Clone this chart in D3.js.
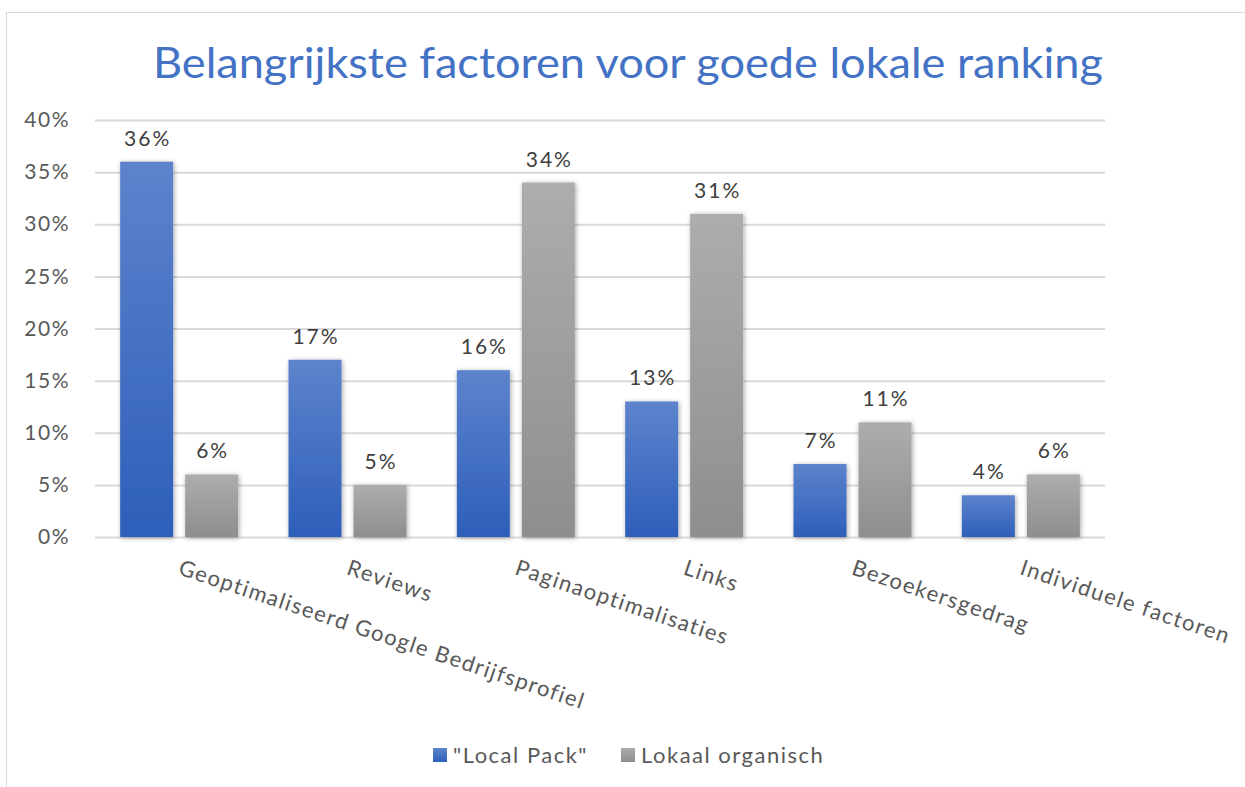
<!DOCTYPE html>
<html>
<head>
<meta charset="utf-8">
<script src="https://cdn.jsdelivr.net/npm/d3@7"></script>
<style>
  body { margin: 0; background: #fff; }
  svg { display: block; }
  text { font-family: Lato, "Noto Sans", sans-serif; }
</style>
</head>
<body>
<svg id="chart" width="1245" height="787"></svg>
<script>
// data
var categories = ["Geoptimaliseerd Google Bedrijfsprofiel", "Reviews", "Paginaoptimalisaties", "Links", "Bezoekersgedrag", "Individuele factoren"];
var seriesNames = ["\"Local Pack\"", "Lokaal organisch"];
var localPack = [36, 17, 16, 13, 7, 4];
var lokaalOrganisch = [6, 5, 34, 31, 11, 6];
var yTicks = [0, 5, 10, 15, 20, 25, 30, 35, 40];
var titleText = "Belangrijkste factoren voor goede lokale ranking";

var width = 1245, height = 787;
var margin = {top: 120, right: 140, bottom: 250, left: 95};
var plotW = 1105 - margin.left, plotH = 537 - margin.top;

var svg = d3.select("#chart");

var defs = svg.append("defs");
function grad(id, top, bottom) {
  var g = defs.append("linearGradient").attr("id", id)
    .attr("x1", 0).attr("y1", 0).attr("x2", 0).attr("y2", 1);
  g.append("stop").attr("offset", "0%").attr("stop-color", top);
  g.append("stop").attr("offset", "100%").attr("stop-color", bottom);
}
grad("gBlue", "#5d83cc", "#2d5fba");
grad("gGray", "#adadad", "#8e8e8e");
var f = defs.append("filter").attr("id", "shadow")
  .attr("x", "-30%").attr("y", "-10%").attr("width", "160%").attr("height", "120%");
f.append("feDropShadow").attr("dx", 1).attr("dy", 1).attr("stdDeviation", 2.5)
  .attr("flood-color", "#000").attr("flood-opacity", 0.35);

// chart border
svg.append("rect")
  .attr("x", 6.5).attr("y", 12.5).attr("width", 1400).attr("height", 900)
  .attr("fill", "none").attr("stroke", "#d9d9d9").attr("stroke-width", 1);

// title
svg.append("text")
  .attr("x", 628).attr("y", 78)
  .attr("text-anchor", "middle")
  .attr("fill", "#4472c4")
  .style("font-size", "42px")
  .attr("textLength", 950).attr("lengthAdjust", "spacingAndGlyphs")
  .text(titleText);

var g = svg.append("g").attr("transform", "translate(" + margin.left + "," + margin.top + ")");

var x0 = d3.scaleBand().domain(categories).range([0, plotW]).paddingInner(0).paddingOuter(0);
var y = d3.scaleLinear().domain([0, 40]).range([plotH, 0]);

// gridlines
g.append("g")
  .call(d3.axisLeft(y).tickValues(yTicks).tickSize(-plotW).tickFormat(""))
  .call(function(s) {
    s.select(".domain").remove();
    s.selectAll("line").attr("stroke", "#d9d9d9").attr("stroke-width", 2);
  });

// y tick labels
g.append("g")
  .call(d3.axisLeft(y).tickValues(yTicks).tickSize(0).tickPadding(25).tickFormat(function(d) { return d + "%"; }))
  .call(function(s) {
    s.select(".domain").remove();
    s.selectAll("text").attr("fill", "#595959").style("font-size", "21px")
      .style("letter-spacing", "1.5px")
      .style("font-family", "Lato, 'Noto Sans', sans-serif");
  });

var barW = 53, gap = 12;
var rows = categories.map(function(c, i) {
  return [
    {cat: c, s: 0, v: localPack[i]},
    {cat: c, s: 1, v: lokaalOrganisch[i]}
  ];
});
var x1 = d3.scaleBand().domain([0, 1]).range([0, 2 * barW + gap]).paddingInner(gap / (barW + gap));

var grp = g.selectAll(".cat").data(rows).enter().append("g")
  .attr("class", "cat")
  .attr("transform", function(d) {
    return "translate(" + (x0(d[0].cat) + x0.bandwidth() / 2 - barW - gap / 2) + ",0)";
  });

grp.selectAll("rect").data(function(d) { return d; }).enter().append("rect")
  .attr("x", function(d) { return x1(d.s); })
  .attr("y", function(d) { return y(d.v); })
  .attr("width", x1.bandwidth())
  .attr("height", function(d) { return plotH - y(d.v); })
  .attr("fill", function(d) { return d.s === 0 ? "url(#gBlue)" : "url(#gGray)"; })
  .attr("filter", "url(#shadow)");

grp.selectAll(".lbl").data(function(d) { return d; }).enter().append("text")
  .attr("class", "lbl")
  .attr("x", function(d) { return x1(d.s) + x1.bandwidth() / 2 + 1; })
  .attr("y", function(d) { return y(d.v) - 16; })
  .attr("text-anchor", "middle")
  .attr("fill", "#404040")
  .style("font-size", "21px")
  .style("letter-spacing", "2px")
  .text(function(d) { return d.v + "%"; });

// category labels, rotated
g.selectAll(".xl").data(categories).enter().append("text")
  .attr("class", "xl")
  .attr("transform", function(d) {
    return "translate(" + (x0(d) + x0.bandwidth() / 2 - 2) + "," + (plotH + 37) + ") rotate(18.5)";
  })
  .attr("fill", "#595959")
  .style("font-size", "22px")
  .style("letter-spacing", "1.4px")
  .text(function(d) { return d; });

// legend
var legend = svg.append("g").attr("transform", "translate(433,748)");
var lx = [0, 188];
var lcol = ["url(#gBlue)", "url(#gGray)"];
seriesNames.forEach(function(n, i) {
  legend.append("rect").attr("x", lx[i]).attr("y", 0).attr("width", 14).attr("height", 14).attr("fill", lcol[i]);
  legend.append("text").attr("x", lx[i] + 20).attr("y", 15)
    .attr("fill", "#595959").style("font-size", "22px").style("letter-spacing", "1.5px").text(n);
});
</script>
</body>
</html>
